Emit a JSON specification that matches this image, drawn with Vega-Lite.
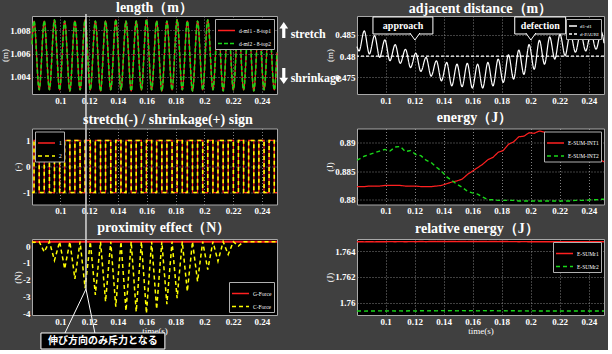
{
"$schema":"https://vega.github.io/schema/vega-lite/v6.json",
"background":"#404040",
"padding":{"left":0,"top":0,"right":0,"bottom":0},
"datasets":{"g":[
{"t":0.0803,"L":1.0068,"s":-1,"d":0.4822,"c":0.26,"e1":0.8823,"e2":0.8869,"r1":1.76472,"r2":1.75936},
{"t":0.0817,"L":1.0088,"s":1,"d":0.4812,"c":0.22,"e1":0.8823,"e2":0.8871,"r1":1.76472,"r2":1.75936},
{"t":0.0853,"L":1.0029,"s":-1,"d":0.4859,"c":0.26,"e1":0.8823,"e2":0.8876,"r1":1.76471,"r2":1.75935},
{"t":0.0888,"L":1.0088,"s":1,"d":0.4805,"c":-0.35,"e1":0.8824,"e2":0.8879,"r1":1.76472,"r2":1.75936},
{"t":0.0924,"L":1.0029,"s":-1,"d":0.4848,"c":0.26,"e1":0.8824,"e2":0.8882,"r1":1.76471,"r2":1.75936},
{"t":0.0959,"L":1.0089,"s":1,"d":0.4797,"c":-0.85,"e1":0.8824,"e2":0.8885,"r1":1.76472,"r2":1.75937},
{"t":0.0995,"L":1.0029,"s":-1,"d":0.4838,"c":0.26,"e1":0.8825,"e2":0.8888,"r1":1.76472,"r2":1.75936},
{"t":0.1030,"L":1.0088,"s":1,"d":0.4789,"c":-1.35,"e1":0.8825,"e2":0.8885,"r1":1.76473,"r2":1.75937},
{"t":0.1066,"L":1.0028,"s":-1,"d":0.4827,"c":0.26,"e1":0.8825,"e2":0.8892,"r1":1.76472,"r2":1.75936},
{"t":0.1101,"L":1.0088,"s":1,"d":0.4783,"c":-1.95,"e1":0.8825,"e2":0.8893,"r1":1.76473,"r2":1.75937},
{"t":0.1137,"L":1.0029,"s":-1,"d":0.4816,"c":0.26,"e1":0.8824,"e2":0.8884,"r1":1.76472,"r2":1.75936},
{"t":0.1172,"L":1.0089,"s":1,"d":0.4773,"c":-2.5,"e1":0.8824,"e2":0.8886,"r1":1.76473,"r2":1.75938},
{"t":0.1208,"L":1.0029,"s":-1,"d":0.4807,"c":0.26,"e1":0.8824,"e2":0.8879,"r1":1.76472,"r2":1.75936},
{"t":0.1243,"L":1.0088,"s":1,"d":0.4764,"c":-2.9,"e1":0.8823,"e2":0.8877,"r1":1.76474,"r2":1.75938},
{"t":0.1279,"L":1.0028,"s":-1,"d":0.4797,"c":0.26,"e1":0.8823,"e2":0.8869,"r1":1.76472,"r2":1.75937},
{"t":0.1314,"L":1.0088,"s":1,"d":0.4753,"c":-3.3,"e1":0.8823,"e2":0.8865,"r1":1.76474,"r2":1.75938},
{"t":0.1350,"L":1.0029,"s":-1,"d":0.4789,"c":0.26,"e1":0.8824,"e2":0.8857,"r1":1.76473,"r2":1.75937},
{"t":0.1385,"L":1.0089,"s":1,"d":0.4742,"c":-3.6,"e1":0.8825,"e2":0.8850,"r1":1.76474,"r2":1.75939},
{"t":0.1421,"L":1.0029,"s":-1,"d":0.4785,"c":0.26,"e1":0.8828,"e2":0.8840,"r1":1.76473,"r2":1.75937},
{"t":0.1456,"L":1.0088,"s":1,"d":0.4730,"c":-3.85,"e1":0.8831,"e2":0.8834,"r1":1.76474,"r2":1.75939},
{"t":0.1492,"L":1.0028,"s":-1,"d":0.4781,"c":0.26,"e1":0.8833,"e2":0.8827,"r1":1.76473,"r2":1.75937},
{"t":0.1527,"L":1.0088,"s":1,"d":0.4728,"c":-3.9,"e1":0.8836,"e2":0.8822,"r1":1.76474,"r2":1.75939},
{"t":0.1563,"L":1.0029,"s":-1,"d":0.4783,"c":0.26,"e1":0.8844,"e2":0.8815,"r1":1.76473,"r2":1.75937},
{"t":0.1598,"L":1.0089,"s":1,"d":0.4725,"c":-4.0,"e1":0.8850,"e2":0.8812,"r1":1.76474,"r2":1.75939},
{"t":0.1634,"L":1.0029,"s":-1,"d":0.4781,"c":0.26,"e1":0.8856,"e2":0.8810,"r1":1.76473,"r2":1.75937},
{"t":0.1669,"L":1.0088,"s":1,"d":0.4725,"c":-3.75,"e1":0.8862,"e2":0.8805,"r1":1.76474,"r2":1.75939},
{"t":0.1705,"L":1.0028,"s":-1,"d":0.4785,"c":0.26,"e1":0.8870,"e2":0.8800,"r1":1.76473,"r2":1.75937},
{"t":0.1740,"L":1.0088,"s":1,"d":0.4730,"c":-3.45,"e1":0.8874,"e2":0.8800,"r1":1.76474,"r2":1.75939},
{"t":0.1776,"L":1.0029,"s":-1,"d":0.4793,"c":0.26,"e1":0.8883,"e2":0.8799,"r1":1.76473,"r2":1.75937},
{"t":0.1811,"L":1.0089,"s":1,"d":0.4738,"c":-3.1,"e1":0.8886,"e2":0.8799,"r1":1.76474,"r2":1.75938},
{"t":0.1847,"L":1.0029,"s":-1,"d":0.4803,"c":0.26,"e1":0.8897,"e2":0.8799,"r1":1.76473,"r2":1.75937},
{"t":0.1882,"L":1.0088,"s":1,"d":0.4746,"c":-2.7,"e1":0.8901,"e2":0.8799,"r1":1.76473,"r2":1.75938},
{"t":0.1918,"L":1.0028,"s":-1,"d":0.4814,"c":0.26,"e1":0.8910,"e2":0.8798,"r1":1.76472,"r2":1.75936},
{"t":0.1953,"L":1.0088,"s":1,"d":0.4757,"c":-2.1,"e1":0.8911,"e2":0.8798,"r1":1.76473,"r2":1.75937},
{"t":0.1989,"L":1.0029,"s":-1,"d":0.4827,"c":0.26,"e1":0.8917,"e2":0.8798,"r1":1.76472,"r2":1.75936},
{"t":0.2024,"L":1.0089,"s":1,"d":0.4769,"c":-1.4,"e1":0.8916,"e2":0.8798,"r1":1.76472,"r2":1.75937},
{"t":0.2060,"L":1.0029,"s":-1,"d":0.4837,"c":0.26,"e1":0.8920,"e2":0.8798,"r1":1.76472,"r2":1.75936},
{"t":0.2095,"L":1.0088,"s":1,"d":0.4781,"c":-0.9,"e1":0.8918,"e2":0.8798,"r1":1.76472,"r2":1.75936},
{"t":0.2131,"L":1.0028,"s":-1,"d":0.4845,"c":0.26,"e1":0.8916,"e2":0.8798,"r1":1.76472,"r2":1.75936},
{"t":0.2166,"L":1.0088,"s":1,"d":0.4793,"c":-0.5,"e1":0.8912,"e2":0.8798,"r1":1.76472,"r2":1.75936},
{"t":0.2202,"L":1.0029,"s":-1,"d":0.4851,"c":0.26,"e1":0.8907,"e2":0.8798,"r1":1.76472,"r2":1.75936},
{"t":0.2237,"L":1.0089,"s":1,"d":0.4801,"c":0.0,"e1":0.8903,"e2":0.8798,"r1":1.76472,"r2":1.75936},
{"t":0.2273,"L":1.0029,"s":-1,"d":0.4855,"c":0.26,"e1":0.8898,"e2":0.8798,"r1":1.76472,"r2":1.75936},
{"t":0.2308,"L":1.0088,"s":1,"d":0.4809,"c":0.26,"e1":0.8893,"e2":0.8799,"r1":1.76472,"r2":1.75936},
{"t":0.2344,"L":1.0028,"s":-1,"d":0.4855,"c":0.26,"e1":0.8889,"e2":0.8799,"r1":1.76472,"r2":1.75936},
{"t":0.2379,"L":1.0088,"s":1,"d":0.4812,"c":0.26,"e1":0.8884,"e2":0.8799,"r1":1.76472,"r2":1.75936},
{"t":0.2415,"L":1.0029,"s":-1,"d":0.4855,"c":0.26,"e1":0.8879,"e2":0.8800,"r1":1.76472,"r2":1.75936},
{"t":0.2450,"L":1.0089,"s":1,"d":0.4816,"c":0.26,"e1":0.8874,"e2":0.8800,"r1":1.76472,"r2":1.75936},
{"t":0.2486,"L":1.0029,"s":-1,"d":0.4857,"c":0.26,"e1":0.8869,"e2":0.8801,"r1":1.76472,"r2":1.75936},
{"t":0.2505,"L":1.0061,"s":-1,"d":0.4830,"c":0.26,"e1":0.8866,"e2":0.8801,"r1":1.76472,"r2":1.75936}
]},
"columns":2,
"spacing":{"row":34.5,"column":80},
"bounds":"flush",
"resolve":{"scale":{"color":"independent","strokeDash":"independent"},"legend":{"color":"independent","strokeDash":"independent"}},
"concat":[
{"width":245,"height":78,"title":{"text":"length（m）","offset":-2},
 "layer":[
  {"data":{"name":"g"},"mark":{"type":"line","interpolate":"monotone","strokeWidth":1.2},
   "encoding":{"x":{"field":"t","type":"quantitative","scale":{"domain":[0.0803,0.2505],"nice":false,"zero":false},"axis":{"values":[0.1,0.12,0.14,0.16,0.18,0.2,0.22,0.24],"tickCount":20,"format":"~g","title":null}},
    "y":{"field":"L","type":"quantitative","scale":{"domain":[1.00254,1.00923],"nice":false,"zero":false},"axis":{"values":[1.004,1.006,1.008],"tickCount":20,"format":"~g","title":"(m)"}},
    "color":{"datum":"d-ml1 - 8-top1","type":"nominal","scale":{"domain":["d-ml1 - 8-top1","d-ml2 - 8-top2"],"range":["#ff2020","#18d818"]},"legend":{"title":null,"orient":"top-right"}},
    "strokeDash":{"datum":"d-ml1 - 8-top1","type":"nominal","scale":{"domain":["d-ml1 - 8-top1","d-ml2 - 8-top2"],"range":[[1,0],[4,2]]},"legend":{"title":null,"orient":"top-right"}}}},
  {"data":{"name":"g"},"mark":{"type":"line","interpolate":"monotone","strokeWidth":1.6},
   "encoding":{"x":{"field":"t","type":"quantitative"},
    "y":{"field":"L","type":"quantitative"},
    "color":{"datum":"d-ml2 - 8-top2","type":"nominal"},
    "strokeDash":{"datum":"d-ml2 - 8-top2","type":"nominal"}}},
  {"data":{"values":[{"k":1}]},"mark":{"type":"rule","color":"#d8d8d8","strokeWidth":1.5,"clip":false},
   "encoding":{"x":{"datum":0.1178},"y":{"datum":1.0094},"y2":{"datum":0.99954}}},
  {"data":{"values":[{"k":1}]},"mark":{"type":"point","shape":"M0,-1L0.55,-0.2L0.2,-0.2L0.2,1L-0.2,1L-0.2,-0.2L-0.55,-0.2Z","size":256,"fill":"white","strokeWidth":0,"opacity":1,"clip":false},
   "encoding":{"x":{"datum":0.2552},"y":{"datum":1.00803}}},
  {"data":{"values":[{"k":1}]},"mark":{"type":"point","shape":"M0,1L0.55,0.2L0.2,0.2L0.2,-1L-0.2,-1L-0.2,0.2L-0.55,0.2Z","size":256,"fill":"white","strokeWidth":0,"opacity":1,"clip":false},
   "encoding":{"x":{"datum":0.2552},"y":{"datum":1.00408}}},
  {"data":{"values":[{"k":1}]},"mark":{"type":"text","text":"stretch","align":"left","baseline":"middle","font":"Liberation Serif","fontWeight":"bold","fontSize":12,"color":"white","clip":false},
   "encoding":{"x":{"datum":0.2600},"y":{"datum":1.00769}}},
  {"data":{"values":[{"k":1}]},"mark":{"type":"text","text":"shrinkage","align":"left","baseline":"middle","font":"Liberation Serif","fontWeight":"bold","fontSize":12,"color":"white","clip":false},
   "encoding":{"x":{"datum":0.2600},"y":{"datum":1.00391}}}
 ]},
{"width":247,"height":78,"title":{"text":"adjacent distance（m）","offset":0},
 "layer":[
  {"data":{"name":"g"},"mark":{"type":"line","interpolate":"monotone","strokeWidth":1.2},
   "encoding":{"x":{"field":"t","type":"quantitative","scale":{"domain":[0.0803,0.2505],"nice":false,"zero":false},"axis":{"values":[0.1,0.12,0.14,0.16,0.18,0.2,0.22,0.24],"tickCount":20,"format":"~g","title":null}},
    "y":{"field":"d","type":"quantitative","scale":{"domain":[0.4711,0.4894],"nice":false,"zero":false},"axis":{"values":[0.475,0.48,0.485],"tickCount":20,"format":"~g","title":"(m)"}},
    "color":{"datum":"d1-d1","type":"nominal","scale":{"domain":["d1-d1","d-PAURI"],"range":["white","white"]},"legend":{"title":null,"orient":"top-right","symbolSize":64,"labelFontSize":5,"padding":2,"labelOffset":2}},
    "strokeDash":{"datum":"d1-d1","type":"nominal","scale":{"domain":["d1-d1","d-PAURI"],"range":[[1,0],[3,2]]},"legend":{"title":null,"orient":"top-right","symbolSize":64,"labelFontSize":5,"padding":2,"labelOffset":2}}}},
  {"data":{"values":[{"k":1}]},"mark":{"type":"rule","strokeWidth":1.2},
   "encoding":{"y":{"datum":0.48},
    "color":{"datum":"d-PAURI","type":"nominal"},
    "strokeDash":{"datum":"d-PAURI","type":"nominal"}}},
  {"data":{"values":[{"k":1}]},"mark":{"type":"rect","fill":"black","stroke":"white","strokeWidth":1,"clip":false},
   "encoding":{"x":{"datum":0.0913},"x2":{"datum":0.1326},"y":{"datum":0.48917},"y2":{"datum":0.48518}}},
  {"data":{"values":[{"k":1}]},"mark":{"type":"point","shape":"M-1,-0.8L0,0.6L1,-0.8","size":100,"fill":"black","stroke":"white","strokeWidth":1,"opacity":1,"clip":false},
   "encoding":{"x":{"datum":0.1202},"y":{"datum":0.48447}}},
  {"data":{"values":[{"k":1}]},"mark":{"type":"text","text":"approach","align":"center","baseline":"middle","font":"Liberation Serif","fontWeight":"bold","fontSize":10,"color":"white","clip":false},
   "encoding":{"x":{"datum":0.1120},"y":{"datum":0.48705}}},
  {"data":{"values":[{"k":1}]},"mark":{"type":"rect","fill":"black","stroke":"white","strokeWidth":1,"clip":false},
   "encoding":{"x":{"datum":0.1890},"x2":{"datum":0.2241},"y":{"datum":0.48917},"y2":{"datum":0.48518}}},
  {"data":{"values":[{"k":1}]},"mark":{"type":"point","shape":"M-1,-0.8L0,0.6L1,-0.8","size":100,"fill":"black","stroke":"white","strokeWidth":1,"opacity":1,"clip":false},
   "encoding":{"x":{"datum":0.2001},"y":{"datum":0.48447}}},
  {"data":{"values":[{"k":1}]},"mark":{"type":"text","text":"defection","align":"center","baseline":"middle","font":"Liberation Serif","fontWeight":"bold","fontSize":10,"color":"white","clip":false},
   "encoding":{"x":{"datum":0.2066},"y":{"datum":0.48705}}}
 ]},
{"width":245,"height":76,
 "layer":[
  {"data":{"name":"g"},"mark":{"type":"line","interpolate":"step-after","strokeWidth":1.2},
   "encoding":{"x":{"field":"t","type":"quantitative","scale":{"domain":[0.0803,0.2505],"nice":false,"zero":false},"axis":{"values":[0.1,0.12,0.14,0.16,0.18,0.2,0.22,0.24],"tickCount":20,"format":"~g","title":null}},
    "y":{"field":"s","type":"quantitative","scale":{"domain":[-1.46,1.46],"nice":false,"zero":false},"axis":{"values":[-1,0,1],"tickCount":20,"format":"d","labelExpr":"replace(datum.label,'−','-')","title":"(-)"}},
    "color":{"datum":"1","type":"nominal","scale":{"domain":["1","2"],"range":["#ff2020","#ffff00"]},"legend":{"title":null,"orient":"top-left"}},
    "strokeDash":{"datum":"1","type":"nominal","scale":{"domain":["1","2"],"range":[[1,0],[4,3]]},"legend":{"title":null,"orient":"top-left"}}}},
  {"data":{"name":"g"},"mark":{"type":"line","interpolate":"step-after","strokeWidth":1.6},
   "encoding":{"x":{"field":"t","type":"quantitative"},
    "y":{"field":"s","type":"quantitative"},
    "color":{"datum":"2","type":"nominal"},
    "strokeDash":{"datum":"2","type":"nominal"}}},
  {"data":{"values":[{"k":1}]},"mark":{"type":"rule","color":"#d8d8d8","strokeWidth":1.5,"clip":false},
   "encoding":{"x":{"datum":0.1178},"y":{"datum":1.46},"y2":{"datum":-2.9}}},
  {"data":{"values":[{"k":1}]},"mark":{"type":"text","text":"stretch(-) / shrinkage(+) sign","align":"center","baseline":"alphabetic","font":"Liberation Serif","fontWeight":"bold","fontSize":14,"color":"white","clip":false},
   "encoding":{"x":{"datum":0.1747},"y":{"datum":1.652}}}
 ]},
{"width":247,"height":76,
 "layer":[
  {"data":{"name":"g"},"mark":{"type":"line","strokeWidth":1.2},
   "encoding":{"x":{"field":"t","type":"quantitative","scale":{"domain":[0.0803,0.2505],"nice":false,"zero":false},"axis":{"values":[0.1,0.12,0.14,0.16,0.18,0.2,0.22,0.24],"tickCount":20,"format":"~g","title":null}},
    "y":{"field":"e1","type":"quantitative","scale":{"domain":[0.87918,0.89244],"nice":false,"zero":false},"axis":{"values":[0.88,0.885,0.89],"tickCount":20,"format":"~g","title":"(J)"}},
    "color":{"datum":"E-SUM-INT1","type":"nominal","scale":{"domain":["E-SUM-INT1","E-SUM-INT2"],"range":["#ff2020","#18d818"]},"legend":{"title":null,"orient":"top-right"}},
    "strokeDash":{"datum":"E-SUM-INT1","type":"nominal","scale":{"domain":["E-SUM-INT1","E-SUM-INT2"],"range":[[1,0],[4,3]]},"legend":{"title":null,"orient":"top-right"}}}},
  {"data":{"name":"g"},"mark":{"type":"line","strokeWidth":1.4},
   "encoding":{"x":{"field":"t","type":"quantitative"},
    "y":{"field":"e2","type":"quantitative"},
    "color":{"datum":"E-SUM-INT2","type":"nominal"},
    "strokeDash":{"datum":"E-SUM-INT2","type":"nominal"}}},
  {"data":{"values":[{"k":1}]},"mark":{"type":"text","text":"energy（J）","align":"center","baseline":"alphabetic","font":"Liberation Serif","fontWeight":"bold","fontSize":14,"color":"white","clip":false},
   "encoding":{"x":{"datum":0.1613},"y":{"datum":0.89349}}}
 ]},
{"width":245,"height":76,
 "layer":[
  {"data":{"values":[{"k":1}]},"mark":{"type":"rule","strokeWidth":2},
   "encoding":{"x":{"datum":0.0803,"type":"quantitative","scale":{"domain":[0.0803,0.2505],"nice":false,"zero":false},"axis":{"values":[0.1,0.12,0.14,0.16,0.18,0.2,0.22,0.24],"tickCount":20,"format":"~g","title":"time(s)"}},
    "x2":{"datum":0.2505},
    "y":{"datum":0.26,"type":"quantitative","scale":{"domain":[-4.1,0.42],"nice":false,"zero":false},"axis":{"values":[-4,-3,-2,-1,0],"tickCount":20,"format":"d","labelExpr":"replace(datum.label,'−','-')","title":"(N)"}},
    "color":{"datum":"G-Force","type":"nominal","scale":{"domain":["G-Force","C-Force"],"range":["#ff2020","#ffff00"]},"legend":{"title":null,"orient":"bottom-right"}},
    "strokeDash":{"datum":"G-Force","type":"nominal","scale":{"domain":["G-Force","C-Force"],"range":[[1,0],[4,3]]},"legend":{"title":null,"orient":"bottom-right"}}}},
  {"data":{"name":"g"},"mark":{"type":"line","strokeWidth":1.5},
   "encoding":{"x":{"field":"t","type":"quantitative"},
    "y":{"field":"c","type":"quantitative"},
    "color":{"datum":"C-Force","type":"nominal"},
    "strokeDash":{"datum":"C-Force","type":"nominal"}}},
  {"data":{"values":[{"k":1}]},"mark":{"type":"rule","color":"#d8d8d8","strokeWidth":1.5,"clip":false},
   "encoding":{"x":{"datum":0.1178},"y":{"datum":0.42},"y2":{"datum":-2.554}}},
  {"data":{"values":[{"k":1}]},"mark":{"type":"rule","color":"white","strokeWidth":1,"clip":false},
   "encoding":{"x":{"datum":0.1032},"y":{"datum":-5.17},"x2":{"datum":0.1178},"y2":{"datum":-2.554}}},
  {"data":{"values":[{"k":1}]},"mark":{"type":"rule","color":"white","strokeWidth":1,"clip":false},
   "encoding":{"x":{"datum":0.1240},"y":{"datum":-5.17},"x2":{"datum":0.1178},"y2":{"datum":-2.554}}},
  {"data":{"values":[{"k":1}]},"mark":{"type":"rect","fill":"black","stroke":"white","strokeWidth":1,"clip":false},
   "encoding":{"x":{"datum":0.0865},"x2":{"datum":0.1726},"y":{"datum":-5.17},"y2":{"datum":-6.122}}},
  {"data":{"values":[{"k":1}]},"mark":{"type":"text","text":"伸び方向のみ斥力となる","align":"center","baseline":"middle","font":"Noto Sans CJK JP","fontWeight":"bold","fontSize":10,"color":"white","clip":false},
   "encoding":{"x":{"datum":0.1296},"y":{"datum":-5.646}}},
  {"data":{"values":[{"k":1}]},"mark":{"type":"text","text":"proximity effect（N）","align":"center","baseline":"alphabetic","font":"Liberation Serif","fontWeight":"bold","fontSize":14,"color":"white","clip":false},
   "encoding":{"x":{"datum":0.1719},"y":{"datum":0.836}}}
 ]},
{"width":247,"height":76,
 "layer":[
  {"data":{"name":"g"},"mark":{"type":"line","strokeWidth":1.4},
   "encoding":{"x":{"field":"t","type":"quantitative","scale":{"domain":[0.0803,0.2505],"nice":false,"zero":false},"axis":{"values":[0.1,0.12,0.14,0.16,0.18,0.2,0.22,0.24],"tickCount":20,"format":"~g","title":"time(s)"}},
    "y":{"field":"r1","type":"quantitative","scale":{"domain":[1.75905,1.76493],"nice":false,"zero":false},"axis":{"values":[1.76,1.762,1.764],"tickCount":20,"format":"~g","title":"(J)"}},
    "color":{"datum":"E-SUMr1","type":"nominal","scale":{"domain":["E-SUMr1","E-SUMr2"],"range":["#ff2020","#18d818"]},"legend":{"title":null,"orient":"top-right"}},
    "strokeDash":{"datum":"E-SUMr1","type":"nominal","scale":{"domain":["E-SUMr1","E-SUMr2"],"range":[[1,0],[4,3]]},"legend":{"title":null,"orient":"top-right"}}}},
  {"data":{"name":"g"},"mark":{"type":"line","strokeWidth":1.4},
   "encoding":{"x":{"field":"t","type":"quantitative"},
    "y":{"field":"r2","type":"quantitative"},
    "color":{"datum":"E-SUMr2","type":"nominal"},
    "strokeDash":{"datum":"E-SUMr2","type":"nominal"}}},
  {"data":{"values":[{"k":1}]},"mark":{"type":"text","text":"relative energy（J）","align":"center","baseline":"alphabetic","font":"Liberation Serif","fontWeight":"bold","fontSize":14,"color":"white","clip":false},
   "encoding":{"x":{"datum":0.1629},"y":{"datum":1.76539}}}
 ]}
],
"config":{
 "font":"Liberation Serif",
 "view":{"fill":"black","stroke":"#a8a8a8","strokeWidth":1},
 "title":{"color":"white","font":"Liberation Serif","fontSize":14,"fontWeight":"bold","offset":5,"baseline":"alphabetic","frame":"group"},
 "axis":{"labelColor":"white","labelFont":"Liberation Serif","labelFontSize":9,"labelFontWeight":"bold","titleColor":"white","titleFont":"Liberation Serif","titleFontSize":9,"titleFontWeight":"normal","domain":false,"ticks":false,"gridColor":"#a0a0a0","gridDash":[1,2],"gridWidth":1,"gridOpacity":0.8,"labelPadding":2,"titlePadding":0,"labelOverlap":false,"labelFlush":false},
 "legend":{"fillColor":"black","strokeColor":"#b0b0b0","padding":2,"labelColor":"white","labelFont":"Liberation Serif","labelFontSize":5.5,"symbolType":"stroke","symbolSize":289,"symbolStrokeWidth":1.5,"rowPadding":0,"labelOffset":3,"offset":3}
}
}
